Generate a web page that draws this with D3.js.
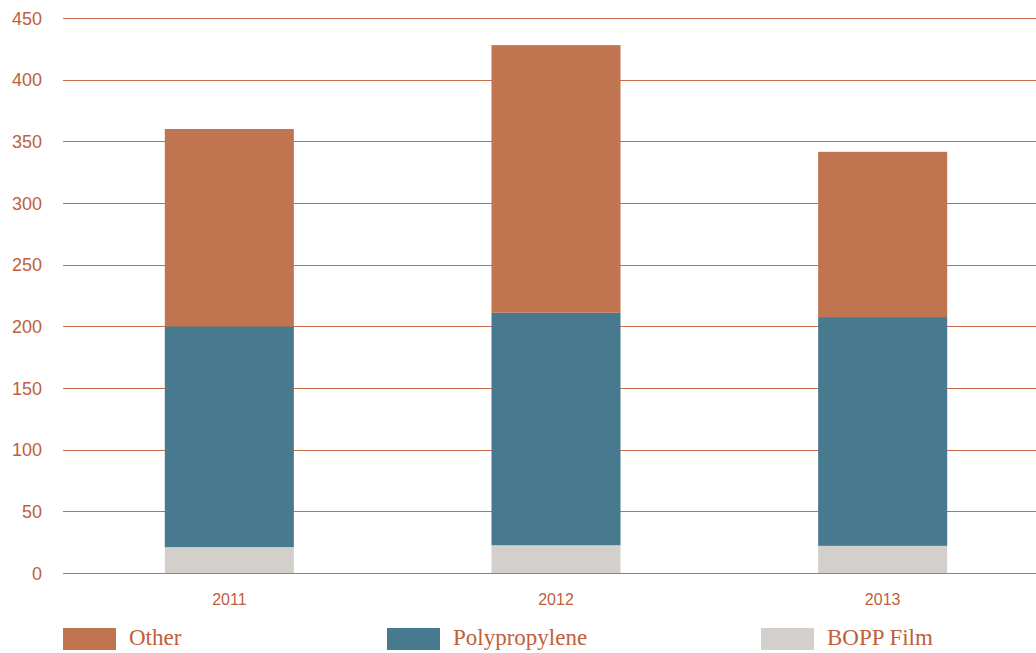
<!DOCTYPE html>
<html>
<head>
<meta charset="utf-8">
<script src="https://cdn.jsdelivr.net/npm/d3@7"></script>
<style>
  body { margin: 0; background: #fff; }
</style>
</head>
<body>
<div id="chart"></div>
<script>
// data
var years = ["2011", "2012", "2013"];
var seriesNames = ["BOPP Film", "Polypropylene", "Other"];
var boppFilm = [21, 22.5, 22];
var polypropylene = [179, 188.5, 185.5];
var other = [160, 217, 134];
var yTicks = [0, 50, 100, 150, 200, 250, 300, 350, 400, 450];
var legendOrder = ["Other", "Polypropylene", "BOPP Film"];

var width = 1036, height = 653;
var colors = {"Other": "#c0744f", "Polypropylene": "#477a8e", "BOPP Film": "#d3d0cb"};
var textColor = "#c0603a";

var svg = d3.select("#chart").append("svg")
    .attr("width", width)
    .attr("height", height);

//build rows for stacking
var rows = years.map(function(y, i) {
  return {year: y, "BOPP Film": boppFilm[i], "Polypropylene": polypropylene[i], "Other": other[i]};
});
var stacked = d3.stack().keys(seriesNames)(rows);

var x = d3.scaleBand()
    .domain(years)
    .range([66, 1046])
    .paddingInner(0.605)
    .paddingOuter(0.3025);

var y = d3.scaleLinear()
    .domain([0, 450])
    .range([573, 18]);

//gridlines
svg.append("g")
    .selectAll("line")
    .data(yTicks)
    .enter().append("line")
    .attr("x1", 63)
    .attr("x2", width)
    .attr("y1", function(d) { return Math.round(y(d)) + 0.5; })
    .attr("y2", function(d) { return Math.round(y(d)) + 0.5; })
    .attr("stroke", "#c96d4b")
    .attr("stroke-width", 1);

//y labels
svg.append("g")
    .selectAll("text")
    .data(yTicks)
    .enter().append("text")
    .attr("x", 42)
    .attr("y", function(d) { return y(d) + 6.5; })
    .attr("text-anchor", "end")
    .style("font-family", "'Liberation Sans', Arial, sans-serif")
    .style("font-size", "18px")
    .style("fill", textColor)
    .text(function(d) { return d; });

//bars
svg.append("g")
    .selectAll("g")
    .data(stacked)
    .enter().append("g")
    .attr("fill", function(d) { return colors[d.key]; })
    .selectAll("rect")
    .data(function(d) { return d; })
    .enter().append("rect")
    .attr("x", function(d) { return x(d.data.year); })
    .attr("width", x.bandwidth())
    .attr("y", function(d) { return y(d[1]); })
    .attr("height", function(d) { return y(d[0]) - y(d[1]); });

//x labels
svg.append("g")
    .selectAll("text")
    .data(years)
    .enter().append("text")
    .attr("x", function(d) { return x(d) + x.bandwidth() / 2; })
    .attr("y", 604.5)
    .attr("text-anchor", "middle")
    .style("font-family", "'Liberation Sans', Arial, sans-serif")
    .style("font-size", "16px")
    .style("fill", textColor)
    .text(function(d) { return d; });

//legend
var legendX = [63, 387, 761];
var legend = svg.append("g")
    .selectAll("g")
    .data(legendOrder)
    .enter().append("g")
    .attr("transform", function(d, i) { return "translate(" + legendX[i] + ",628)"; });

legend.append("rect")
    .attr("width", 53)
    .attr("height", 22)
    .attr("fill", function(d) { return colors[d]; });

legend.append("text")
    .attr("x", 66)
    .attr("y", 17)
    .style("font-family", "'Liberation Serif', 'Times New Roman', serif")
    .style("font-size", "23px")
    .style("fill", textColor)
    .text(function(d) { return d; });
</script>
</body>
</html>
